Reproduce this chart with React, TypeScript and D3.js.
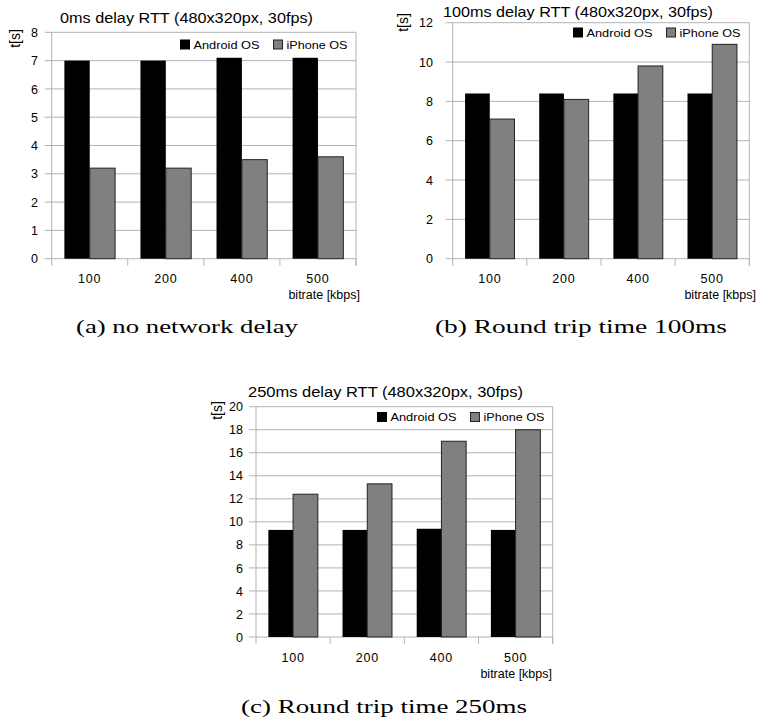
import React from "react";
import * as d3 from "d3";

const categories = ["100", "200", "400", "500"];
const series = ["Android OS", "iPhone OS"];

const androidA = [7.0, 7.0, 7.1, 7.1];
const iphoneA = [3.2, 3.2, 3.5, 3.6];
const androidB = [8.4, 8.4, 8.4, 8.4];
const iphoneB = [7.1, 8.1, 9.8, 10.9];
const androidC = [9.3, 9.3, 9.4, 9.3];
const iphoneC = [12.4, 13.3, 17.0, 18.0];

const ticksA = [0, 1, 2, 3, 4, 5, 6, 7, 8];
const ticksB = [0, 2, 4, 6, 8, 10, 12];
const ticksC = [0, 2, 4, 6, 8, 10, 12, 14, 16, 18, 20];

const titleA = "0ms delay RTT (480x320px, 30fps)";
const titleB = "100ms delay RTT (480x320px, 30fps)";
const titleC = "250ms delay RTT (480x320px, 30fps)";
const captionA = "(a) no network delay";
const captionB = "(b) Round trip time 100ms";
const captionC = "(c) Round trip time 250ms";
const yLabel = "t[s]";
const xLabel = "bitrate [kbps]";

const COLORS = ["#000000", "#808080"];
const GRID = "#b3b3b3";
const SANS = "'Liberation Sans', Arial, sans-serif";
const SERIF = "'Liberation Serif', 'Times New Roman', serif";

type ChartProps = {
  x0: number; x1: number; yTop: number; yBot: number;
  ticks: number[]; android: number[]; iphone: number[];
  title: string; titleX0: number; titleX1: number; titleY: number;
  ylabX: number; ylabY: number; tickLabRight: number;
  legX: number; legY: number; xlabRight: number;
};

function Chart(p: ChartProps) {
  const ymax = p.ticks[p.ticks.length - 1];
  const y = d3.scaleLinear().domain([0, ymax]).range([p.yBot, p.yTop]);
  const x = d3.scaleBand<string>().domain(categories).range([p.x0, p.x1]).paddingInner(1 / 3).paddingOuter(1 / 6);
  const xs = d3.scaleBand<string>().domain(series).range([0, x.bandwidth()]);
  const step = x.step();
  const bounds = categories.map((c) => (x(c) as number) - (step - x.bandwidth()) / 2);
  bounds.push(p.x1);
  const vals = [p.android, p.iphone];
  return (
    <g>
      {p.ticks.map((t) => (
        <g key={"g" + t}>
          <line x1={p.x0 - 7} x2={p.x1} y1={y(t)} y2={y(t)} stroke={GRID} strokeWidth={1} />
          <text x={p.tickLabRight} y={y(t) + 4.6} textAnchor="end" fontSize={12.5} fontFamily={SANS} fill="#000">{t}</text>
        </g>
      ))}
      <line x1={p.x0} x2={p.x0} y1={p.yTop} y2={p.yBot} stroke={GRID} />
      <line x1={p.x1} x2={p.x1} y1={p.yTop} y2={p.yBot + 7} stroke={GRID} />
      {bounds.map((b, i) => (
        <line key={"b" + i} x1={b} x2={b} y1={p.yBot} y2={p.yBot + 7} stroke={GRID} />
      ))}
      {series.map((s, si) =>
        categories.map((c, ci) => {
          const v = vals[si][ci];
          return (
            <rect key={s + c}
              x={(x(c) as number) + (xs(s) as number)}
              y={y(v)}
              width={xs.bandwidth()}
              height={p.yBot - y(v)}
              fill={COLORS[si]}
              stroke={si === 0 ? "#000" : "#222"}
              strokeWidth={si === 0 ? 0 : 1} />
          );
        })
      )}
      {categories.map((c) => (
        <text key={"xl" + c} x={(x(c) as number) + x.bandwidth() / 2} y={p.yBot + 24.5} textAnchor="middle" fontSize={12.5} letterSpacing={0.8} fontFamily={SANS} fill="#000">{c}</text>
      ))}
      <text x={p.xlabRight} y={p.yBot + 40.5} textAnchor="end" fontSize={12.5} fontFamily={SANS} fill="#000">{xLabel}</text>
      <text x={(p.titleX0 + p.titleX1) / 2} y={p.titleY} textAnchor="middle" fontSize={15} fontFamily={SANS} fill="#000"
        textLength={p.titleX1 - p.titleX0} lengthAdjust="spacingAndGlyphs">{p.title}</text>
      <text transform={`translate(${p.ylabX},${p.ylabY}) rotate(-90)`} textAnchor="middle" fontSize={14} fontFamily={SANS} fill="#000">{yLabel}</text>
      <g transform={`translate(${p.legX},${p.legY})`}>
        <rect x={0.5} y={0.5} width={9} height={9} fill={COLORS[0]} stroke="#000" />
        <text x={13.5} y={9} fontSize={11.5} fontFamily={SANS} fill="#000" textLength={66} lengthAdjust="spacingAndGlyphs">{series[0]}</text>
        <rect x={93.5} y={0.5} width={9} height={9} fill={COLORS[1]} stroke="#222" />
        <text x={106.5} y={9} fontSize={11.5} fontFamily={SANS} fill="#000" textLength={61} lengthAdjust="spacingAndGlyphs">{series[1]}</text>
      </g>
    </g>
  );
}

function Caption({ text, x0, x1, y }: { text: string; x0: number; x1: number; y: number }) {
  return (
    <text x={x0} y={y} fontSize={18} fontFamily={SERIF} fill="#000" textLength={x1 - x0} lengthAdjust="spacingAndGlyphs">{text}</text>
  );
}

export default function App() {
  return (
    <svg width={757} height={727} style={{ position: "absolute", left: 0, top: 0, background: "#fff" }}>
      <rect x={0} y={0} width={757} height={727} fill="#fff" />
      <Chart x0={51.7} x1={356} yTop={32.3} yBot={258.7} ticks={ticksA} android={androidA} iphone={iphoneA}
        title={titleA} titleX0={60} titleX1={313} titleY={23} ylabX={19.5} ylabY={38.5} tickLabRight={38}
        legX={180} legY={39.5} xlabRight={360} />
      <Chart x0={452.7} x1={749.3} yTop={22.7} yBot={258.7} ticks={ticksB} android={androidB} iphone={iphoneB}
        title={titleB} titleX0={443} titleX1={713} titleY={16.7} ylabX={407.5} ylabY={22.5} tickLabRight={433}
        legX={573} legY={27.5} xlabRight={756} />
      <Chart x0={256} x1={552.7} yTop={406.7} yBot={637} ticks={ticksC} android={androidC} iphone={iphoneC}
        title={titleC} titleX0={248} titleX1={523} titleY={397} ylabX={221.5} ylabY={410.5} tickLabRight={243}
        legX={377} legY={412} xlabRight={552} />
      <Caption text={captionA} x0={76} x1={298} y={333} />
      <Caption text={captionB} x0={435} x1={727} y={333} />
      <Caption text={captionC} x0={241} x1={527} y={713} />
    </svg>
  );
}
